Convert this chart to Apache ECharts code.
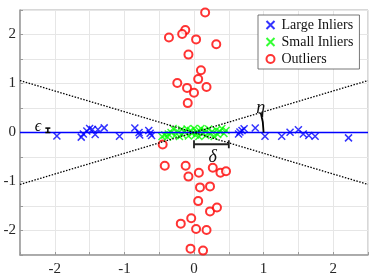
<!DOCTYPE html>
<html><head><meta charset="utf-8">
<script src="https://cdn.jsdelivr.net/npm/echarts@6/dist/echarts.min.js"></script>
<style>html,body{margin:0;padding:0;background:#fff}#c{width:374px;height:280px}</style>
</head><body><div id="c"></div>
<script>
var xTicks = [-2, -1, 0, 1, 2];
var yTicks = [-2, -1, 0, 1, 2];
var largeInliers = [
  [-1.97,-0.07],[-1.62,-0.095],[-1.59,-0.03],[-1.54,0.03],[-1.50,0.08],[-1.46,0.06],
  [-1.42,-0.04],[-1.38,0.06],[-1.29,0.095],[-1.07,-0.075],[-0.85,0.09],[-0.79,0.0],
  [-0.78,-0.05],[-0.65,0.04],[-0.63,-0.015],[-0.61,-0.06],
  [0.64,-0.03],[0.66,0.01],[0.69,0.04],[0.72,0.075],[0.88,0.09],[1.02,-0.075],
  [1.26,-0.075],[1.38,0.006],[1.50,0.055],[1.57,-0.03],[1.65,-0.06],[1.74,-0.075],[2.22,-0.11]
];
var smallInliers = [
  [-0.46,-0.08],[-0.42,-0.05],[-0.38,-0.09],[-0.37,-0.03],[-0.30,0.08],[-0.27,-0.06],
  [-0.24,0.03],[-0.18,0.06],[-0.17,-0.04],[-0.13,0.02],[-0.10,0.07],[-0.08,-0.07],
  [-0.05,0.04],[-0.03,-0.02],[0.0,0.08],[0.02,-0.05],[0.04,0.01],[0.07,-0.08],
  [0.10,0.08],[0.12,-0.02],[0.15,0.04],[0.17,-0.06],[0.21,0.07],[0.23,-0.03],
  [0.26,0.02],[0.29,-0.08],[0.32,0.05],[0.34,-0.04],[0.37,0.02],[0.40,0.08],
  [0.43,-0.02],[0.46,0.04],[-0.33,0.0],[0.08,0.03],[-0.21,-0.08]
];
var outliers = [
  [0.16,2.45],[-0.125,2.09],[-0.17,2.01],[-0.36,1.94],[0.03,1.90],[0.32,1.80],
  [-0.08,1.59],[0.10,1.27],[0.06,1.09],[-0.24,1.01],[-0.10,0.91],[0.18,0.93],
  [0.0,0.81],[-0.09,0.60],
  [-0.45,-0.245],[-0.42,-0.68],[-0.12,-0.68],[-0.08,-0.90],[0.07,-0.82],[0.27,-0.72],
  [0.38,-0.82],[0.46,-0.79],[0.086,-1.12],[0.23,-1.10],[0.06,-1.40],[0.23,-1.61],
  [0.33,-1.53],[-0.04,-1.75],[-0.19,-1.86],[0.03,-1.97],[0.18,-1.99],[-0.05,-2.37],[0.13,-2.41]
];
var fitLine = [[-2.5,0],[2.5,0]];
var boundUp = [[-2.5,-1.06],[2.5,1.06]];
var boundDown = [[-2.5,1.06],[2.5,-1.06]];
var epsBar = [[-2.1,0],[-2.1,0.09]];
var deltaBar = [[0,-0.24],[0.5,-0.24]];
var epsLabelPos = [-2.24,0.12];
var deltaLabelPos = [0.27,-0.5];
var etaLabelPos = [0.96,0.5];
var etaRadius = 1;

var SERIF = 'Liberation Serif, Times New Roman, serif';
var cross = 'path://M0,0L10,10M10,0L0,10';
var chart = echarts.init(document.getElementById('c'), null, {renderer:'canvas'});
var axisCommon = {
  min:-2.5, max:2.5, interval:0.5,
  axisLine:{show:true, onZero:false, lineStyle:{color:'#9a9a9a', width:1.5}},
  axisTick:{show:true, inside:true, length:3, lineStyle:{color:'#9a9a9a'},
    interval:function(i,v){return xTicks.indexOf(Number(v))>=0;}},
  splitLine:{show:true, lineStyle:{color:'#e6e6e6', width:1}},
  axisLabel:{fontFamily:SERIF, fontSize:15, color:'#262626'}
};
function ax(extra){ return Object.assign(JSON.parse(JSON.stringify(axisCommon)), extra); }
var xA = ax({type:'value', position:'bottom'});
xA.axisLabel.formatter = function(v){return xTicks.indexOf(v)>=0 ? String(v) : '';};
xA.axisLabel.margin = 7;
xA.axisTick.interval = function(i,v){return xTicks.indexOf(Number(v))>=0;};
xA.splitLine.interval = function(i,v){return xTicks.indexOf(Number(v))>=0;};
var yA = ax({type:'value', position:'left'});
yA.axisLabel.formatter = function(v){return yTicks.indexOf(v)>=0 ? String(v) : '';};
yA.axisLabel.margin = 4;
yA.axisTick.interval = function(i,v){return yTicks.indexOf(Number(v))>=0;};
yA.splitLine.interval = function(i,v){return yTicks.indexOf(Number(v))>=0;};

chart.setOption({
  animation:false,
  grid:{left:20, right:6, top:10, bottom:25, show:true, borderColor:'#b0b0b0', borderWidth:1, backgroundColor:'transparent'},
  xAxis: xA,
  yAxis: yA,
  legend:{
    left:258, top:15, orient:'vertical', backgroundColor:'#fff',
    borderColor:'#555', borderWidth:0.8, padding:[3,6,3,6], itemGap:3,
    itemWidth:12, itemHeight:8,
    textStyle:{fontFamily:SERIF, fontSize:14, color:'#111'},
    data:['Large Inliers','Small Inliers','Outliers']
  },
  series:[
    {name:'Outliers', type:'scatter', data:outliers, symbol:'emptyCircle', symbolSize:8,
     itemStyle:{color:'#ff0000', borderColor:'#ff0000', borderWidth:1.3}},
    {name:'Large Inliers', type:'scatter', data:largeInliers, symbol:cross, symbolSize:7,
     itemStyle:{color:'none', borderColor:'#0000ff', borderWidth:1.5}},
    {name:'Small Inliers', type:'scatter', data:smallInliers, symbol:cross, symbolSize:7,
     itemStyle:{color:'none', borderColor:'#00ff00', borderWidth:1.5}},
    {type:'line', data:fitLine, symbol:'none', lineStyle:{color:'#0000ff', width:1.6}, z:3},
    {type:'line', data:boundUp, symbol:'none', lineStyle:{color:'#000', width:1.3, type:[1.5,1.5]}, z:4},
    {type:'line', data:boundDown, symbol:'none', lineStyle:{color:'#000', width:1.3, type:[1.5,1.5]}, z:4}
  ]
});

function px(p){ return chart.convertToPixel({gridIndex:0}, p); }
var g = [];
var e0 = px(epsBar[0]), e1 = px(epsBar[1]);
g.push({type:'line', shape:{x1:e0[0],y1:e0[1],x2:e1[0],y2:e1[1]}, style:{stroke:'#000', lineWidth:1.5}, z:10});
g.push({type:'line', shape:{x1:e0[0]-2.5,y1:e0[1],x2:e0[0]+2.5,y2:e0[1]}, style:{stroke:'#000', lineWidth:1.5}, z:10});
g.push({type:'line', shape:{x1:e1[0]-2.5,y1:e1[1],x2:e1[0]+2.5,y2:e1[1]}, style:{stroke:'#000', lineWidth:1.5}, z:10});
var el = px(epsLabelPos);
g.push({type:'text', x:el[0], y:el[1], style:{text:'\u03f5', font:'italic 16px '+SERIF, fill:'#000', align:'center', verticalAlign:'middle'}, z:10});
var d0 = px(deltaBar[0]), d1 = px(deltaBar[1]);
g.push({type:'line', shape:{x1:d0[0],y1:d0[1],x2:d1[0],y2:d1[1]}, style:{stroke:'#222', lineWidth:1.8}, z:10});
g.push({type:'line', shape:{x1:d0[0],y1:d0[1]-4,x2:d0[0],y2:d0[1]+4}, style:{stroke:'#222', lineWidth:1.8}, z:10});
g.push({type:'line', shape:{x1:d1[0],y1:d1[1]-4,x2:d1[0],y2:d1[1]+4}, style:{stroke:'#222', lineWidth:1.8}, z:10});
var dl = px(deltaLabelPos);
g.push({type:'text', x:dl[0], y:dl[1], style:{text:'\u03b4', font:'italic 18px '+SERIF, fill:'#111', align:'center', verticalAlign:'middle'}, z:10});
var o = px([0,0]), r1 = px([etaRadius,0]), bp = px(boundUp[1]);
var ang = Math.atan2(o[1]-bp[1], bp[0]-o[0]);
g.push({type:'arc', shape:{cx:o[0], cy:o[1], r:r1[0]-o[0], startAngle:-ang, endAngle:0, clockwise:true},
  style:{stroke:'#000', lineWidth:1.8, fill:null}, z:10});
var tl = px(etaLabelPos);
g.push({type:'text', x:tl[0], y:tl[1], style:{text:'\u03b7', font:'italic 18px '+SERIF, fill:'#111', align:'center', verticalAlign:'middle'}, z:10});
chart.setOption({graphic:g});
</script>
</body></html>
